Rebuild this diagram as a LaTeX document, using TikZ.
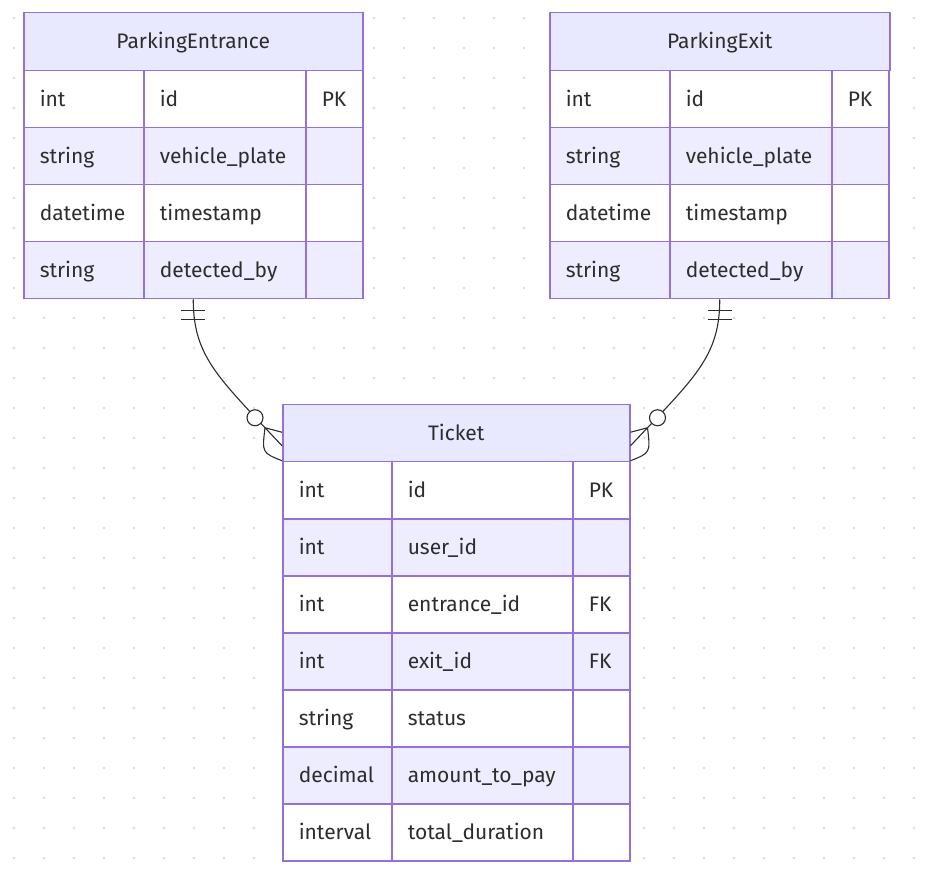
\documentclass[tikz,border=0pt]{standalone}
\usepackage{fontspec}
\setmainfont{Fira Sans}
\usepackage{xcolor}
\definecolor{erborder}{RGB}{147,112,219}
\definecolor{erhead}{RGB}{232,232,255}
\definecolor{errow}{RGB}{237,237,255}
\definecolor{ertext}{RGB}{45,45,45}
\definecolor{gridgray}{RGB}{218,218,218}
\usetikzlibrary{calc}

\begin{document}
\begin{tikzpicture}[x=1pt, y=-1pt,
    every node/.style={font=\fontsize{21}{25}\selectfont, text=ertext},
    head/.style={draw=erborder, line width=1.5pt, fill=erhead, anchor=north west, inner sep=0pt, minimum height=58pt, text height=16pt, text depth=2pt},
    cell/.style={draw=erborder, line width=1.5pt, fill=white, anchor=north west, inner xsep=16pt, inner ysep=0pt, minimum height=57pt, align=left, text height=16pt, text depth=2pt},
    alt/.style={fill=errow},
    etype/.style={cell, text width=88pt},
    ename/.style={cell, text width=130pt},
    ttype/.style={cell, text width=77pt},
    tname/.style={cell, text width=149pt},
    key/.style={cell, text width=25pt},
    rel/.style={draw=ertext, line width=1.1pt},
    zerocirc/.style={circle, draw=ertext, line width=1.1pt, fill=white, inner sep=0pt, minimum size=16pt}]
    \useasboundingbox (0,0) rectangle (930,877);
    % Dotted background
    \foreach \x in {14,44,...,914}
      \foreach \y in {18,48,...,858}
        \fill[gridgray] (\x,\y) circle (1.4pt);
    % ParkingEntrance
    \node[head, minimum width=339pt] (entrance) at (23,12) {ParkingEntrance};
    \node[etype] (entrance1t) at (23,70) {int};
    \node[ename] (entrance1n) at (143,70) {id};
    \node[key] (entrance1k) at (305,70) {PK};
    \node[etype, alt] (entrance2t) at (23,127) {string};
    \node[ename, alt] (entrance2n) at (143,127) {vehicle\_plate};
    \node[key, alt] (entrance2k) at (305,127) {};
    \node[etype] (entrance3t) at (23,184) {datetime};
    \node[ename] (entrance3n) at (143,184) {timestamp};
    \node[key] (entrance3k) at (305,184) {};
    \node[etype, alt] (entrance4t) at (23,241) {string};
    \node[ename, alt] (entrance4n) at (143,241) {detected\_by};
    \node[key, alt] (entrance4k) at (305,241) {};
    % ParkingExit
    \node[head, minimum width=340pt] (exit) at (549,12) {ParkingExit};
    \node[etype] (exit1t) at (549,70) {int};
    \node[ename] (exit1n) at (669,70) {id};
    \node[key] (exit1k) at (831,70) {PK};
    \node[etype, alt] (exit2t) at (549,127) {string};
    \node[ename, alt] (exit2n) at (669,127) {vehicle\_plate};
    \node[key, alt] (exit2k) at (831,127) {};
    \node[etype] (exit3t) at (549,184) {datetime};
    \node[ename] (exit3n) at (669,184) {timestamp};
    \node[key] (exit3k) at (831,184) {};
    \node[etype, alt] (exit4t) at (549,241) {string};
    \node[ename, alt] (exit4n) at (669,241) {detected\_by};
    \node[key, alt] (exit4k) at (831,241) {};
    % Ticket
    \node[head, minimum width=347pt, minimum height=57pt] (ticket) at (282,404) {Ticket};
    \node[ttype] (ticket1t) at (282,461) {int};
    \node[tname] (ticket1n) at (391,461) {id};
    \node[key] (ticket1k) at (572,461) {PK};
    \node[ttype, alt] (ticket2t) at (282,518) {int};
    \node[tname, alt] (ticket2n) at (391,518) {user\_id};
    \node[key, alt] (ticket2k) at (572,518) {};
    \node[ttype] (ticket3t) at (282,575) {int};
    \node[tname] (ticket3n) at (391,575) {entrance\_id};
    \node[key] (ticket3k) at (572,575) {FK};
    \node[ttype, alt] (ticket4t) at (282,632) {int};
    \node[tname, alt] (ticket4n) at (391,632) {exit\_id};
    \node[key, alt] (ticket4k) at (572,632) {FK};
    \node[ttype] (ticket5t) at (282,689) {string};
    \node[tname] (ticket5n) at (391,689) {status};
    \node[key] (ticket5k) at (572,689) {};
    \node[ttype, alt] (ticket6t) at (282,746) {decimal};
    \node[tname, alt] (ticket6n) at (391,746) {amount\_to\_pay};
    \node[key, alt] (ticket6k) at (572,746) {};
    \node[ttype] (ticket7t) at (282,803) {interval};
    \node[tname] (ticket7n) at (391,803) {total\_duration};
    \node[key] (ticket7k) at (572,803) {};
    % ParkingEntrance ||--o{ Ticket
    \coordinate (entranceOut) at (entrance.center |- entrance4t.south);
    \coordinate (ticketInL) at ($(ticket.west)+(-17,-5.5)$);
    \draw[rel] (entranceOut) .. controls ($(entranceOut)+(0,53)$) and ($(entranceOut)+(22,75)$) .. (ticketInL);
    \draw[rel] ($(entranceOut)+(-12,11)$) -- +(24,0) ($(entranceOut)+(-12,20)$) -- +(24,0);
    \draw[rel] (ticketInL) -- ($(ticket.west)+(0,-1)$) (ticketInL) -- ($(ticket.west)+(0,12.5)$);
    \draw[rel] (ticketInL) .. controls ($(ticketInL)+(-3,25)$) .. ($(ticket.west)+(0,27.5)$);
    \node[zerocirc] (entranceZero) at ($(ticketInL)+(-10,-10)$) {};
    % ParkingExit ||--o{ Ticket
    \coordinate (exitOut) at (exit.center |- exit4t.south);
    \coordinate (ticketInR) at ($(ticket.east)+(17,-5.5)$);
    \draw[rel] (exitOut) .. controls ($(exitOut)+(0,53)$) and ($(exitOut)+(-22,75)$) .. (ticketInR);
    \draw[rel] ($(exitOut)+(-12,11)$) -- +(24,0) ($(exitOut)+(-12,20)$) -- +(24,0);
    \draw[rel] (ticketInR) -- ($(ticket.east)+(0,-1)$) (ticketInR) -- ($(ticket.east)+(0,12.5)$);
    \draw[rel] (ticketInR) .. controls ($(ticketInR)+(3,25)$) .. ($(ticket.east)+(0,27.5)$);
    \node[zerocirc] (exitZero) at ($(ticketInR)+(10,-10)$) {};
\end{tikzpicture}
\end{document}
